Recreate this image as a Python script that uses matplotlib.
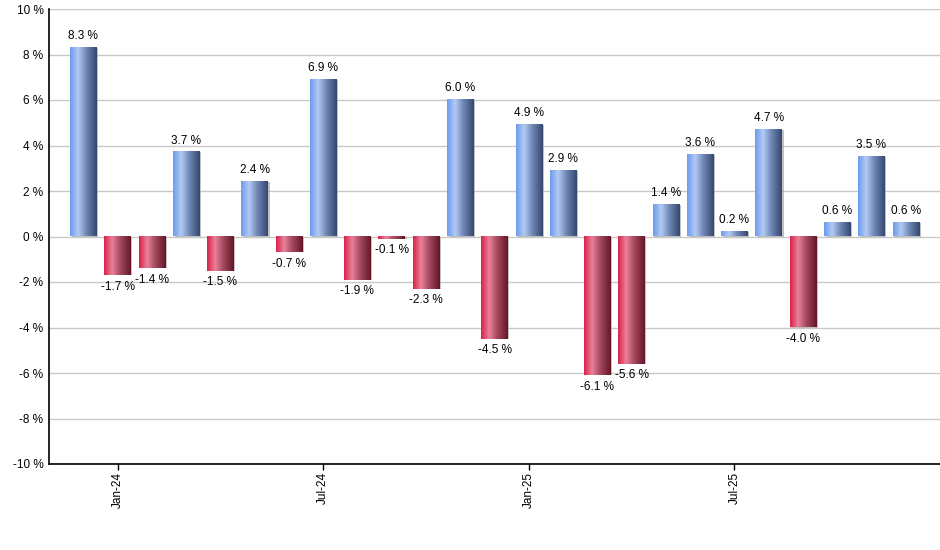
import numpy as np
import matplotlib
matplotlib.use("Agg")
import matplotlib.pyplot as plt
from matplotlib.colors import LinearSegmentedColormap

# monthly returns, Dec-23 .. Dec-25
months = ["Dec-23", "Jan-24", "Feb-24", "Mar-24", "Apr-24", "May-24", "Jun-24",
          "Jul-24", "Aug-24", "Sep-24", "Oct-24", "Nov-24", "Dec-24",
          "Jan-25", "Feb-25", "Mar-25", "Apr-25", "May-25", "Jun-25",
          "Jul-25", "Aug-25", "Sep-25", "Oct-25", "Nov-25", "Dec-25"]
returns = [8.3, -1.7, -1.4, 3.7, -1.5, 2.4, -0.7, 6.9, -1.9, -0.1, -2.3, 6.0, -4.5,
           4.9, 2.9, -6.1, -5.6, 1.4, 3.6, 0.2, 4.7, -4.0, 0.6, 3.5, 0.6]
tick_labels = ["Jan-24", "Jul-24", "Jan-25", "Jul-25"]
y_ticks = [-10, -8, -6, -4, -2, 0, 2, 4, 6, 8, 10]

plt.rcParams['font.family'] = ['Liberation Sans', 'DejaVu Sans']

blue_cm = LinearSegmentedColormap.from_list(
    "b", [(0, "#6d9ced"), (0.3, "#b3caf4"), (0.6, "#7189b8"), (1, "#34486f")])
red_cm = LinearSegmentedColormap.from_list(
    "r", [(0, "#d8234a"), (0.3, "#ea8199"), (0.6, "#a44a60"), (1, "#661627")])
grad = np.linspace(0, 1, 64).reshape(1, -1)

fig = plt.figure(figsize=(9.4, 5.5), dpi=100)
ax = fig.add_axes([49 / 940, 1 - 464 / 550, 1 - 49 / 940, (464 - 9) / 550])

w = 0.77
x = np.arange(len(returns))
for i, v in zip(x, returns):
    cm = blue_cm if v >= 0 else red_cm
    # faint shadow
    ax.bar(i + 0.05, v, width=w, bottom=0, color="#9a9a9a", alpha=0.6, zorder=2,
           linewidth=0)
    ax.imshow(grad, cmap=cm, aspect="auto", extent=(i - w / 2, i + w / 2, 0, v),
              zorder=3, interpolation="bilinear")
    if v >= 0:
        ax.annotate(f"{v:.1f} %", (i, v), xytext=(0, 4), textcoords="offset points",
                    ha="center", va="bottom", fontsize=8.5)
    else:
        ax.annotate(f"{v:.1f} %", (i, v), xytext=(0, -4), textcoords="offset points",
                    ha="center", va="top", fontsize=8.5)

ax.set_xlim(-1, len(returns))
ax.set_ylim(-10, 10)
ax.set_yticks(y_ticks)
ax.set_yticklabels([f"{t} %" for t in y_ticks], fontsize=8.5)
ax.set_xticks([months.index(m) for m in tick_labels])
ax.set_xticklabels(tick_labels, rotation=90, fontsize=8.5)
ax.tick_params(axis="y", length=0, pad=4)
ax.tick_params(axis="x", length=4, width=1, pad=2)
ax.grid(axis="y", color="#c8c8c8", linewidth=1, zorder=0)
ax.set_axisbelow(True)
for s in ["top", "right"]:
    ax.spines[s].set_visible(False)
for s in ["left", "bottom"]:
    ax.spines[s].set_linewidth(1.2)
    ax.spines[s].set_zorder(5)

fig.savefig("out.png", dpi=100)
